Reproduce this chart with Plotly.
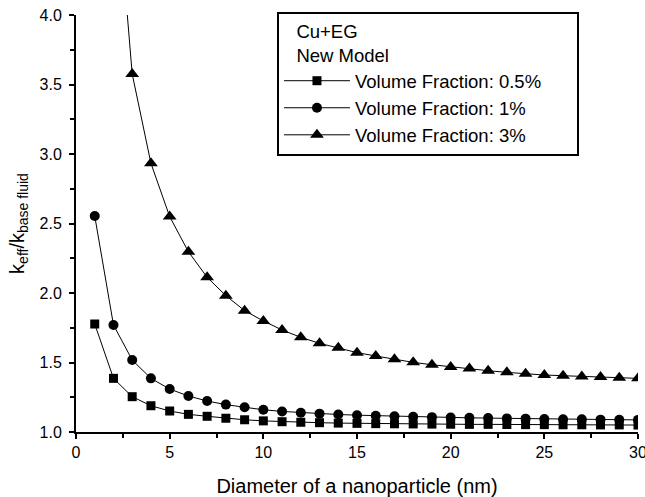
import plotly.graph_objects as go

diameter_nm = list(range(1, 31))

vf_05 = [1.777, 1.386, 1.254, 1.189, 1.151, 1.127, 1.113, 1.099, 1.088, 1.080,
         1.074, 1.070, 1.067, 1.064, 1.062, 1.060, 1.059, 1.058, 1.057, 1.056,
         1.055, 1.055, 1.054, 1.053, 1.053, 1.052, 1.052, 1.051, 1.051, 1.050]

vf_1 = [2.554, 1.770, 1.518, 1.386, 1.309, 1.259, 1.223, 1.197, 1.178, 1.160,
        1.148, 1.139, 1.132, 1.126, 1.121, 1.117, 1.113, 1.110, 1.107, 1.104,
        1.102, 1.100, 1.098, 1.096, 1.094, 1.092, 1.091, 1.089, 1.088, 1.087]

vf_3 = [10.0, 5.2, 3.576, 2.933, 2.55, 2.297, 2.113, 1.981, 1.873, 1.799,
        1.734, 1.681, 1.638, 1.607, 1.571, 1.547, 1.523, 1.501, 1.484, 1.468,
        1.456, 1.441, 1.429, 1.419, 1.410, 1.405, 1.400, 1.396, 1.390, 1.386]

series_names = ["Volume Fraction: 0.5%", "Volume Fraction: 1%", "Volume Fraction: 3%"]
series_values = [vf_05, vf_1, vf_3]
series_symbols = ["square", "circle", "triangle-up"]
series_sizes = [9, 10, 12]

x_ticks = [0, 5, 10, 15, 20, 25, 30]
y_ticks = [1.0, 1.5, 2.0, 2.5, 3.0, 3.5, 4.0]

legend_lines = ["Cu+EG", "New Model"]
indent = "&nbsp;" * 3
legend_title = indent + legend_lines[0] + "<br>" + indent + legend_lines[1]
# invisible right padding so the legend box is as wide as in the reference
pad = "&nbsp;" * 6 + "\u200b"

FONT = "Liberation Sans, Arial, sans-serif"

fig = go.Figure()
for name, vals, sym, sz in zip(series_names, series_values, series_symbols, series_sizes):
    fig.add_trace(go.Scatter(
        x=diameter_nm, y=vals, name=name + pad, mode="lines+markers",
        line=dict(color="black", width=1),
        marker=dict(symbol=sym, size=sz, color="black"),
        cliponaxis=True,
    ))

axis_common = dict(
    showgrid=False, zeroline=False, showline=True, linecolor="black", linewidth=2,
    ticks="outside", ticklen=5, tickwidth=1.5, tickcolor="black", mirror=False,
    tickfont=dict(family=FONT, size=16, color="black"),
    ticklabeloverflow="allow", automargin=False,
)

fig.update_xaxes(
    range=[0, 30], tickvals=x_ticks, ticktext=[str(v) for v in x_ticks],
    minor=dict(dtick=2.5, ticks="outside", ticklen=4, tickwidth=1.5, tickcolor="black"),
    title=dict(text="Diameter of a nanoparticle (nm)", font=dict(family=FONT, size=20, color="black"), standoff=19),
    **axis_common,
)
fig.update_yaxes(
    range=[1, 4], tickvals=y_ticks, ticktext=[f"{v:.1f}" for v in y_ticks],
    minor=dict(dtick=0.25, ticks="outside", ticklen=4, tickwidth=1.5, tickcolor="black"),
    title=dict(text="k<sub>eff</sub>/k<sub>base fluid</sub>", font=dict(family=FONT, size=20, color="black"), standoff=10),
    ticklabelstandoff=4,
    **axis_common,
)

fig.update_layout(
    width=645, height=497,
    margin=dict(l=76, r=7, t=15, b=65),
    plot_bgcolor="white", paper_bgcolor="white",
    showlegend=True,
    legend=dict(
        x=0.3576, y=1.007, xanchor="left", yanchor="top",
        bordercolor="black", borderwidth=2, bgcolor="white",
        font=dict(family=FONT, size=18.5, color="black"),
        title=dict(text=legend_title, font=dict(family=FONT, size=18.5, color="black")),
        tracegroupgap=0, itemwidth=66,
    ),
)

fig.write_html("out.html")
